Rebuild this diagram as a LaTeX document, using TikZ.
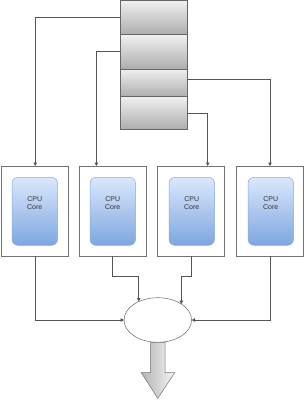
\documentclass[tikz,border=0pt]{standalone}
\usepackage{fontspec}
\setmainfont{Liberation Sans}
\usetikzlibrary{arrows.meta,shapes.geometric}
\definecolor{coretop}{HTML}{DAE8FC}
\definecolor{corebot}{HTML}{7EA6E0}
\definecolor{coreedge}{HTML}{8EAAD6}
\definecolor{lineclr}{HTML}{555555}
\tikzset{
  memcell/.style={draw=black!60, line width=0.6pt, top color=black!6, bottom color=black!32,
    minimum width=67.3pt, inner sep=0pt, outer sep=0pt, anchor=north west},
  corebox/.style={draw=black!55, line width=0.6pt, fill=white, minimum width=67pt,
    minimum height=90pt, inner sep=0pt, outer sep=0pt, anchor=north west},
  coreinner/.style={draw=coreedge, line width=0.5pt, rounded corners=6pt, top color=coretop,
    bottom color=corebot, minimum width=45.5pt, minimum height=68pt, inner sep=0pt,
    outer sep=0pt, anchor=north west},
  corelabel/.style={font=\fontsize{7}{8}\selectfont, align=center, text=black!80, inner sep=0pt},
  arr/.style={draw=lineclr, line width=0.6pt, -{Triangle[length=3.5pt,width=3.5pt]}},
}
\begin{document}
\begin{tikzpicture}[x=1pt,y=-1pt]
\useasboundingbox (0,0) rectangle (305,400);
% memory stack
\node[memcell, minimum height=34pt] (m1) at (120,0.5) {};
\node[memcell, minimum height=34.5pt] (m2) at (120,34.5) {};
\node[memcell, minimum height=27.7pt] (m3) at (120,69) {};
\node[memcell, minimum height=32.6pt] (m4) at (120,96.7) {};
% core boxes
\foreach \i/\x/\ix in {1/1.7/12, 2/79/90, 3/157.5/169, 4/236.5/248}{
  \node[corebox] (b\i) at (\x,166) {};
  \node[coreinner] (c\i) at (\ix,177.3) {};
  \node[corelabel] (t\i) at (\ix+22.75,203) {CPU\\Core};
}
% ellipse
\node[ellipse, draw=black!60, line width=0.5pt, fill=white, minimum width=67.6pt,
  minimum height=44.6pt, inner sep=0pt, outer sep=0pt] (e) at (157.8,320) {};
% top connectors
\draw[arr] (m1.west) -| (b1.north);
\draw[arr] (m2.west) -| ([xshift=-16.1pt]b2.north);
\draw[arr] ([yshift=4pt]m3.east) -| (b4.north);
\draw[arr] (m4.east) -| ([xshift=16.7pt]b3.north);
% bottom connectors
\draw[arr] (b1.south) |- (e.west);
\draw[arr] (b4.south) |- (e.east);
\draw[arr] (b2.south) -- ++(0,20.7) -| (e.136.1);
\draw[arr] (b3.south) -- ++(0,20.7) -| (e.34.3);
% output arrow
\draw[draw=black!55, line width=0.5pt, left color=black!30, right color=black!4]
  (150.7,342.3) -- (165,342.3) -- (165,372.7) -- (174.7,372.7) -- (157.8,398.3)
  -- (141.3,372.7) -- (150.7,372.7) -- cycle;
\end{tikzpicture}
\end{document}
